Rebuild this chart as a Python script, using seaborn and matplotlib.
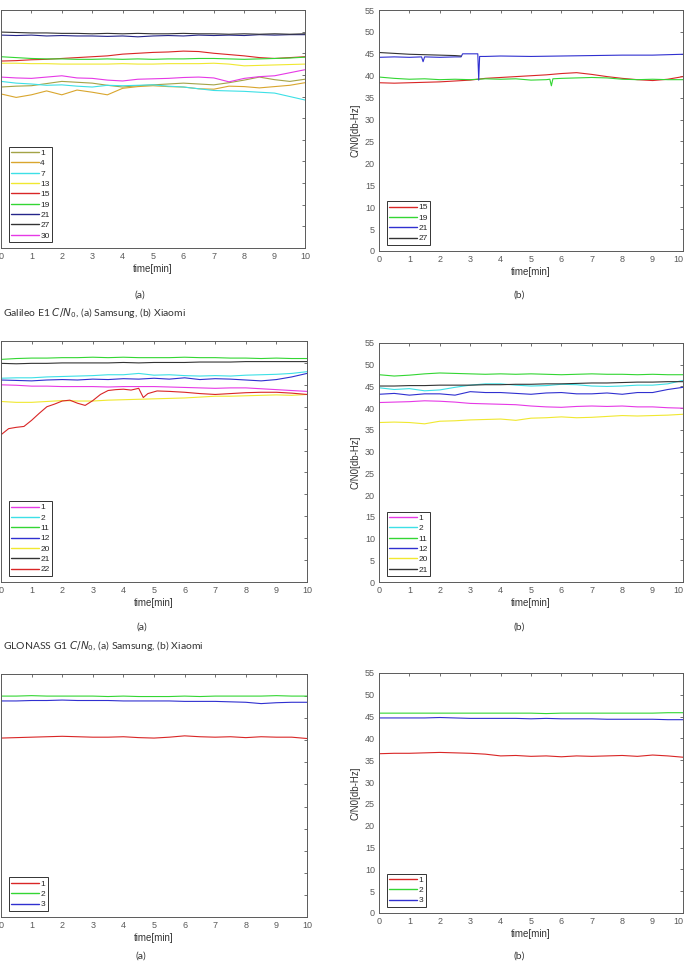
import matplotlib
matplotlib.use("Agg")
import matplotlib.pyplot as plt
import pandas as pd
import seaborn as sns

W, H = 684, 964

# time axis (minutes) used by most traces
T = [0, 0.5, 1, 1.5, 2, 2.5, 3, 3.5, 4, 4.5, 5, 5.5, 6, 6.5, 7, 7.5, 8, 8.5, 9, 9.5, 10]

# ---- Galileo E1, Samsung (a) ----
gal_sam_1 = [37.2, 37.4, 37.5, 38.0, 38.5, 38.3, 38.1, 37.6, 37.2, 37.5, 37.7, 37.9, 38.1, 37.9, 37.7, 38.2, 38.8, 39.5, 38.9, 38.5, 39.0]
gal_sam_4 = [35.6, 34.8, 35.4, 36.3, 35.4, 36.5, 36.0, 35.4, 36.9, 37.3, 37.5, 37.3, 37.2, 36.8, 36.7, 37.4, 37.3, 37.0, 37.3, 37.6, 38.2]
gal_sam_7 = [38.5, 38.1, 37.9, 37.6, 37.7, 37.4, 37.2, 37.6, 37.5, 37.6, 37.7, 37.4, 37.2, 36.8, 36.4, 36.3, 36.2, 36.0, 35.8, 35.0, 34.2]
gal_sam_13 = [42.7, 42.7, 42.6, 42.6, 42.5, 42.5, 42.5, 42.5, 42.6, 42.5, 42.5, 42.6, 42.6, 42.6, 42.7, 42.5, 42.1, 42.2, 42.3, 42.4, 42.5]
gal_sam_15 = [43.2, 43.3, 43.5, 43.6, 43.8, 44.0, 44.2, 44.4, 44.8, 45.0, 45.2, 45.3, 45.5, 45.4, 45.0, 44.7, 44.4, 44.0, 43.8, 44.0, 44.2]
gal_sam_19 = [44.2, 44.0, 43.8, 43.7, 43.7, 43.6, 43.6, 43.7, 43.6, 43.7, 43.6, 43.7, 43.7, 43.8, 43.8, 43.7, 43.6, 43.7, 43.8, 43.9, 44.1]
gal_sam_21 = [49.2, 49.1, 49.2, 49.0, 49.1, 49.0, 49.0, 48.9, 49.0, 48.8, 49.0, 49.1, 49.0, 49.2, 49.1, 49.2, 49.1, 49.3, 49.2, 49.3, 49.3]
gal_sam_27 = [49.9, 49.8, 49.7, 49.7, 49.6, 49.6, 49.5, 49.6, 49.5, 49.6, 49.5, 49.5, 49.6, 49.5, 49.5, 49.4, 49.5, 49.4, 49.5, 49.4, 49.5]
gal_sam_30 = [39.5, 39.3, 39.2, 39.5, 39.8, 39.3, 39.2, 38.8, 38.6, 39.0, 39.1, 39.2, 39.4, 39.5, 39.3, 38.4, 39.2, 39.6, 39.8, 40.5, 41.2]

# ---- Galileo E1, Xiaomi (b) ----
gal_xia_15 = [38.4, 38.3, 38.4, 38.5, 38.6, 38.8, 39.0, 39.4, 39.6, 39.8, 40.0, 40.2, 40.5, 40.7, 40.3, 39.8, 39.4, 39.1, 38.9, 39.2, 39.8]
gal_xia_19_t = [0, 0.5, 1, 1.5, 2, 2.5, 3, 3.5, 4, 4.5, 5, 5.5, 5.62, 5.67, 5.72, 6, 6.5, 7, 7.5, 8, 8.5, 9, 9.5, 10]
gal_xia_19 = [39.7, 39.4, 39.2, 39.3, 39.1, 39.2, 39.1, 39.3, 39.2, 39.3, 39.0, 39.1, 39.2, 37.7, 39.3, 39.4, 39.5, 39.6, 39.5, 39.2, 39.1, 39.2, 39.1, 39.1]
gal_xia_21_t = [0, 0.5, 1, 1.4, 1.45, 1.5, 2, 2.5, 2.7, 2.75, 3, 3.25, 3.28, 3.31, 3.5, 4, 5, 6, 7, 8, 9, 10]
gal_xia_21 = [44.2, 44.3, 44.2, 44.3, 43.2, 44.3, 44.2, 44.3, 44.3, 45.0, 45.0, 45.0, 39.0, 44.4, 44.4, 44.5, 44.4, 44.5, 44.6, 44.7, 44.7, 44.9]
gal_xia_27_t = [0, 0.5, 1, 1.5, 2, 2.5, 2.7]
gal_xia_27 = [45.3, 45.1, 44.9, 44.8, 44.7, 44.6, 44.5]

# ---- GLONASS G1, Samsung (a) ----
glo_sam_1 = [45.0, 44.9, 44.7, 44.7, 44.6, 44.6, 44.6, 44.5, 44.6, 44.6, 44.6, 44.5, 44.4, 44.3, 44.2, 44.3, 44.3, 44.1, 43.9, 43.7, 43.5]
glo_sam_2 = [46.5, 46.6, 46.6, 46.8, 46.9, 47.0, 47.1, 47.3, 47.3, 47.6, 47.2, 47.3, 47.1, 47.0, 47.1, 47.0, 47.2, 47.3, 47.4, 47.6, 48.0]
glo_sam_11 = [50.8, 51.0, 51.1, 51.1, 51.2, 51.2, 51.3, 51.2, 51.3, 51.2, 51.2, 51.2, 51.3, 51.2, 51.2, 51.1, 51.1, 51.0, 51.1, 51.0, 51.0]
glo_sam_12 = [46.1, 46.0, 45.9, 46.1, 46.2, 46.1, 46.3, 46.2, 46.4, 46.3, 46.5, 46.3, 46.6, 46.2, 46.4, 46.3, 46.1, 45.9, 46.2, 46.8, 47.6]
glo_sam_20 = [41.2, 41.0, 41.0, 41.2, 41.4, 41.3, 41.3, 41.5, 41.6, 41.7, 41.8, 41.9, 42.0, 42.2, 42.4, 42.4, 42.5, 42.6, 42.7, 42.6, 42.8]
glo_sam_21 = [49.9, 49.8, 49.9, 49.9, 50.0, 50.0, 50.0, 50.0, 50.1, 50.0, 50.1, 50.1, 50.1, 50.2, 50.2, 50.2, 50.3, 50.3, 50.3, 50.3, 50.3]
glo_sam_22_t = [0, 0.25, 0.5, 0.75, 1, 1.25, 1.5, 1.75, 2, 2.25, 2.5, 2.75, 3, 3.25, 3.5, 3.75, 4, 4.25, 4.5, 4.65, 4.8, 5.1, 5.5, 6, 6.5, 7, 7.5, 8, 8.5, 9, 9.5, 10]
glo_sam_22 = [33.6, 35.0, 35.3, 35.5, 36.9, 38.5, 40.0, 40.6, 41.3, 41.5, 40.8, 40.3, 41.4, 42.8, 43.7, 43.9, 44.0, 43.8, 44.2, 42.1, 43.0, 43.6, 43.5, 43.3, 43.0, 42.8, 43.0, 43.2, 43.3, 43.3, 43.1, 42.8]

# ---- GLONASS G1, Xiaomi (b) ----
glo_xia_1 = [41.3, 41.4, 41.5, 41.7, 41.6, 41.4, 41.1, 41.0, 40.9, 40.8, 40.5, 40.3, 40.2, 40.4, 40.5, 40.4, 40.5, 40.3, 40.3, 40.1, 40.0]
glo_xia_2 = [44.7, 44.3, 44.5, 44.0, 44.2, 44.8, 45.3, 45.6, 45.6, 45.3, 45.1, 45.2, 45.5, 45.4, 45.1, 45.0, 45.1, 45.3, 45.3, 45.6, 46.4]
glo_xia_11 = [47.7, 47.4, 47.6, 47.9, 48.1, 48.0, 47.9, 47.8, 47.9, 47.8, 47.9, 47.8, 47.7, 47.8, 47.9, 47.8, 47.8, 47.7, 47.8, 47.7, 47.7]
glo_xia_12 = [43.2, 43.4, 43.0, 43.3, 43.3, 43.0, 43.8, 43.6, 43.6, 43.4, 43.2, 43.5, 43.6, 43.3, 43.3, 43.5, 43.2, 43.6, 43.6, 44.3, 44.8]
glo_xia_20 = [36.7, 36.8, 36.7, 36.4, 37.0, 37.1, 37.3, 37.4, 37.5, 37.2, 37.7, 37.8, 38.0, 37.8, 37.9, 38.1, 38.3, 38.2, 38.3, 38.4, 38.6]
glo_xia_21 = [45.1, 45.1, 45.2, 45.2, 45.3, 45.3, 45.3, 45.4, 45.4, 45.5, 45.5, 45.6, 45.6, 45.7, 45.8, 45.8, 45.9, 46.0, 46.0, 46.1, 46.1]

# ---- third system, Samsung (a) ----
bds_sam_1 = [40.5, 40.6, 40.7, 40.8, 40.9, 40.8, 40.7, 40.7, 40.8, 40.6, 40.5, 40.7, 41.0, 40.8, 40.7, 40.8, 40.6, 40.8, 40.7, 40.7, 40.4]
bds_sam_2 = [50.0, 50.0, 50.1, 50.0, 50.0, 50.0, 50.0, 49.9, 50.0, 49.9, 49.9, 49.9, 50.0, 49.9, 50.0, 50.0, 50.0, 50.0, 50.1, 50.0, 50.0]
bds_sam_3 = [48.9, 48.9, 49.0, 49.0, 49.1, 49.0, 49.0, 49.0, 48.9, 48.9, 48.9, 48.9, 48.8, 48.8, 48.8, 48.7, 48.6, 48.3, 48.5, 48.6, 48.6]

# ---- third system, Xiaomi (b) ----
bds_xia_1 = [36.5, 36.6, 36.6, 36.7, 36.8, 36.7, 36.6, 36.4, 36.0, 36.1, 35.9, 36.0, 35.8, 36.0, 35.9, 36.0, 36.1, 35.9, 36.2, 36.0, 35.7]
bds_xia_2 = [45.8, 45.8, 45.8, 45.8, 45.8, 45.8, 45.8, 45.8, 45.8, 45.8, 45.8, 45.7, 45.8, 45.8, 45.8, 45.8, 45.8, 45.8, 45.8, 45.9, 45.9]
bds_xia_3 = [44.7, 44.7, 44.7, 44.7, 44.8, 44.7, 44.6, 44.6, 44.6, 44.6, 44.5, 44.6, 44.5, 44.5, 44.5, 44.4, 44.4, 44.4, 44.4, 44.3, 44.3]

x_ticks = [0, 1, 2, 3, 4, 5, 6, 7, 8, 9, 10]
y_ticks = [0, 5, 10, 15, 20, 25, 30, 35, 40, 45, 50, 55]

RED = "#d92626"
GREEN = "#33d633"
BLUE = "#3030d0"
NAVY = "#25258a"
BLACK = "#333333"
MAGENTA = "#e639e6"
CYAN = "#3de0e6"
YELLOW = "#f0e830"
OLIVE = "#a3a347"
GOLD = "#d9a62e"
AXCOL = "#5a5a5a"

panels = [
    # (rect px: left, top, right, bottom), right-hand?, series list
    ((1, 10, 305, 248), False, [
        ("1", T, gal_sam_1, OLIVE), ("4", T, gal_sam_4, GOLD), ("7", T, gal_sam_7, CYAN),
        ("13", T, gal_sam_13, YELLOW), ("15", T, gal_sam_15, RED), ("19", T, gal_sam_19, GREEN),
        ("21", T, gal_sam_21, NAVY), ("27", T, gal_sam_27, BLACK), ("30", T, gal_sam_30, MAGENTA)]),
    ((379, 10, 683, 251), True, [
        ("15", T, gal_xia_15, RED), ("19", gal_xia_19_t, gal_xia_19, GREEN),
        ("21", gal_xia_21_t, gal_xia_21, BLUE), ("27", gal_xia_27_t, gal_xia_27, BLACK)]),
    ((1, 341, 307, 582), False, [
        ("1", T, glo_sam_1, MAGENTA), ("2", T, glo_sam_2, CYAN), ("11", T, glo_sam_11, GREEN),
        ("12", T, glo_sam_12, BLUE), ("20", T, glo_sam_20, YELLOW), ("21", T, glo_sam_21, BLACK),
        ("22", glo_sam_22_t, glo_sam_22, RED)]),
    ((379, 343, 683, 582), True, [
        ("1", T, glo_xia_1, MAGENTA), ("2", T, glo_xia_2, CYAN), ("11", T, glo_xia_11, GREEN),
        ("12", T, glo_xia_12, BLUE), ("20", T, glo_xia_20, YELLOW), ("21", T, glo_xia_21, BLACK)]),
    ((1, 674, 307, 917), False, [
        ("1", T, bds_sam_1, RED), ("2", T, bds_sam_2, GREEN), ("3", T, bds_sam_3, BLUE)]),
    ((379, 673, 683, 913), True, [
        ("1", T, bds_xia_1, RED), ("2", T, bds_xia_2, GREEN), ("3", T, bds_xia_3, BLUE)]),
]

sns.set_style("white")
plt.rcParams["font.family"] = ["Liberation Sans", "DejaVu Sans"]

fig = plt.figure(figsize=(W / 100, H / 100), dpi=100)


def add_px_axes(left, top, right, bottom):
    return fig.add_axes([left / W, 1 - bottom / H, (right - left) / W, (bottom - top) / H])


for rect, right_side, series in panels:
    ax = add_px_axes(*rect)
    frames = []
    for prn, t, v, _ in series:
        frames.append(pd.DataFrame({"time": t, "cn0": v, "prn": prn}))
    df = pd.concat(frames, ignore_index=True)
    palette = {prn: c for prn, _, _, c in series}
    sns.lineplot(data=df, x="time", y="cn0", hue="prn", hue_order=list(palette),
                 palette=palette, estimator=None, sort=False, linewidth=0.8, ax=ax)

    ax.set_xlim(0, 10)
    ax.set_ylim(0, 55)
    ax.set_xticks(x_ticks)
    ax.set_xticklabels([str(v) for v in x_ticks])
    ax.set_yticks(y_ticks)
    ax.tick_params(direction="in", top=True, right=True, length=2.5, width=0.6,
                   colors=AXCOL, labelsize=6.5, pad=3, labelleft=right_side)
    if right_side:
        # the page crops the last tick label; keep it inside the picture
        ax.get_xticklabels()[-1].set_horizontalalignment("right")
    for s in ax.spines.values():
        s.set_color(AXCOL)
        s.set_linewidth(0.7)
    ax.set_xlabel("time[min]", fontsize=7, color="#333333", labelpad=2)
    if right_side:
        ax.set_ylabel("C/N0[db-Hz]", fontsize=7, color="#333333", labelpad=3)
    else:
        ax.set_ylabel("")

    handles, labels = ax.get_legend_handles_labels()
    leg = ax.legend(handles, labels, loc="lower left", bbox_to_anchor=(0.025, 0.025),
                    borderaxespad=0, fontsize=6, handlelength=3.3, handletextpad=0.2,
                    labelspacing=0.3, borderpad=0.3, fancybox=False, framealpha=1,
                    edgecolor="#333333")
    leg.get_frame().set_linewidth(0.7)
    for line in leg.get_lines():
        line.set_linewidth(1.0)


def px_text(x, y, s, **kw):
    fig.text(x / W, 1 - y / H, s, va="center", **kw)


cap_font = ["Lato", "DejaVu Sans"]
for x, y, s in [(140, 295, "(a)"), (519, 295, "(b)"), (142, 627, "(a)"),
                (519, 627, "(b)"), (141, 956, "(a)"), (519, 956, "(b)")]:
    px_text(x, y, s, ha="center", fontsize=7.5, color="#333333", family=cap_font)

px_text(3, 313, r"Galileo E1 $C/N_0$, (a) Samsung, (b) Xiaomi", ha="left",
        fontsize=7.5, color="#333333", family=cap_font)
px_text(3, 646, r"GLONASS G1 $C/N_0$, (a) Samsung, (b) Xiaomi", ha="left",
        fontsize=7.5, color="#333333", family=cap_font)

fig.savefig("out.png", dpi=100)
